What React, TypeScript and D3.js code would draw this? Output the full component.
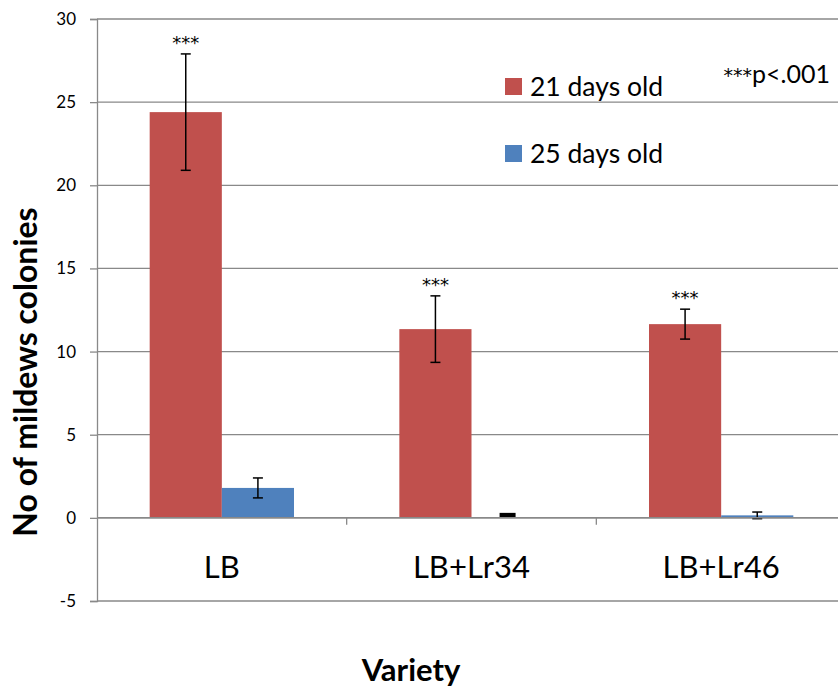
import * as d3 from "d3";
import {useEffect, useRef} from "react";

// values
const categories = ["LB", "LB+Lr34", "LB+Lr46"];
const series = ["21 days old", "25 days old"];
const colors = ["#C0504D", "#4F81BD"];
const values21 = [24.4, 11.35, 11.65];
const errors21 = [3.5, 2.0, 0.9];
const values25 = [1.8, 0.02, 0.15];
const errors25 = [0.6, 0.0, 0.2];
const stars21 = ["***", "***", "***"];
const yTicks = [-5, 0, 5, 10, 15, 20, 25, 30];

const App = () => {
    const ref = useRef<SVGSVGElement>(null);

    useEffect(() => {
        const svg = d3.select(ref.current);
        svg.selectAll("*").remove();

        const font = "Lato, 'Open Sans', sans-serif";
        const starFont = "'DejaVu Sans', sans-serif";
        const left = 97, right = 846, top = 19, bottom = 601;

        const x = d3.scaleBand().domain(categories).range([left, right]).paddingInner(0).paddingOuter(0);
        const inner = d3.scaleBand().domain(series).range([0, x.bandwidth()]).paddingOuter(0.73).paddingInner(0);
        const y = d3.scaleLinear().domain([-5, 30]).range([bottom, top]);

        // gridlines
        svg.append("g").selectAll("line").data(yTicks).join("line")
            .attr("x1", left).attr("x2", 838)
            .attr("y1", d => y(d)).attr("y2", d => y(d))
            .attr("stroke", "#898989").attr("stroke-width", 1.3);

        // y axis
        const yAxis = svg.append("g").attr("transform", `translate(${left},0)`)
            .call(d3.axisLeft(y).tickValues(yTicks).tickSize(7).tickPadding(14).tickFormat(d => String(d)));
        yAxis.select(".domain").attr("stroke", "#898989").attr("stroke-width", 1.3);
        yAxis.selectAll(".tick line").attr("stroke", "#898989").attr("stroke-width", 1.3);
        yAxis.selectAll(".tick text").attr("font-family", font).attr("font-size", 17).attr("fill", "#000");

        const data = categories.map((c, i) => ({
            c,
            bars: [
                {s: series[0], v: values21[i], e: errors21[i], color: colors[0]},
                {s: series[1], v: values25[i], e: errors25[i], color: colors[1]},
            ],
        }));

        const groups = svg.append("g").selectAll("g").data(data).join("g")
            .attr("transform", d => `translate(${x(d.c)},0)`);

        groups.selectAll("rect").data(d => d.bars).join("rect")
            .attr("x", d => inner(d.s)!)
            .attr("width", inner.bandwidth())
            .attr("y", d => y(Math.max(0, d.v)))
            .attr("height", d => Math.abs(y(d.v) - y(0)))
            .attr("fill", d => d.color);

        // zero axis with category ticks
        svg.append("line").attr("x1", left).attr("x2", 838)
            .attr("y1", y(0)).attr("y2", y(0))
            .attr("stroke", "#898989").attr("stroke-width", 1.5);
        svg.append("g").selectAll("line").data(categories.slice(1)).join("line")
            .attr("x1", d => x(d)!).attr("x2", d => x(d)!)
            .attr("y1", y(0)).attr("y2", y(0) + 7)
            .attr("stroke", "#898989").attr("stroke-width", 1.3);

        // error bars
        const eb = groups.selectAll("g.err").data(d => d.bars.filter(b => b.e > 0)).join("g").attr("class", "err");
        const cx = (d: any) => inner(d.s)! + inner.bandwidth() / 2;
        eb.append("line").attr("x1", cx).attr("x2", cx)
            .attr("y1", d => y(d.v + d.e)).attr("y2", d => y(d.v - d.e))
            .attr("stroke", "#000").attr("stroke-width", 1.5);
        [1, -1].forEach(sign => {
            eb.append("line")
                .attr("x1", d => cx(d) - 5).attr("x2", d => cx(d) + 5)
                .attr("y1", d => y(d.v + sign * d.e)).attr("y2", d => y(d.v + sign * d.e))
                .attr("stroke", "#000").attr("stroke-width", 1.5);
        });

        // black marker on the LB+Lr34 25-day bar
        groups.filter(d => d.c === "LB+Lr34").append("rect")
            .attr("x", inner(series[1])! + inner.bandwidth() / 2 - 8)
            .attr("width", 16)
            .attr("y", y(0.3))
            .attr("height", y(0) - y(0.3))
            .attr("fill", "#000");

        // significance stars
        groups.append("text")
            .attr("x", inner(series[0])! + inner.bandwidth() / 2)
            .attr("y", (d, i) => y(values21[i] + errors21[i]) - 5)
            .attr("text-anchor", "middle")
            .attr("font-family", starFont).attr("font-size", 18)
            .text((d, i) => stars21[i]);

        // category labels
        svg.append("g").selectAll("text").data(categories).join("text")
            .attr("x", d => x(d)! + x.bandwidth() / 2)
            .attr("y", 578)
            .attr("text-anchor", "middle")
            .attr("font-family", font).attr("font-size", 31)
            .text(d => d);

        // legend
        const lg = svg.append("g").selectAll("g").data(series).join("g")
            .attr("transform", (d, i) => `translate(505,${78 + i * 67})`);
        lg.append("rect").attr("width", 17).attr("height", 17).attr("fill", (d, i) => colors[i]);
        lg.append("text").attr("x", 25).attr("y", 18)
            .attr("font-family", font).attr("font-size", 26.5).text(d => d);

        const pt = svg.append("text").attr("x", 830).attr("y", 83)
            .attr("text-anchor", "end")
            .attr("font-family", font).attr("font-size", 25);
        pt.append("tspan").attr("font-family", starFont).attr("font-size", 19).attr("dy", -1).text("***");
        pt.append("tspan").attr("dy", 1).text("p<.001");

        // axis titles
        svg.append("text").attr("x", 411).attr("y", 681)
            .attr("text-anchor", "middle").attr("font-family", font)
            .attr("font-size", 31).attr("font-weight", "bold").text("Variety");
        svg.append("text")
            .attr("transform", `translate(37,372) rotate(-90)`)
            .attr("text-anchor", "middle").attr("font-family", font)
            .attr("font-size", 32).attr("font-weight", "bold").text("No of mildews colonies");
    }, []);

    return (
        <svg ref={ref} width={838} height={693}
             style={{position: "absolute", left: 0, top: 0, background: "#fff"}}/>
    );
};

export default App;
